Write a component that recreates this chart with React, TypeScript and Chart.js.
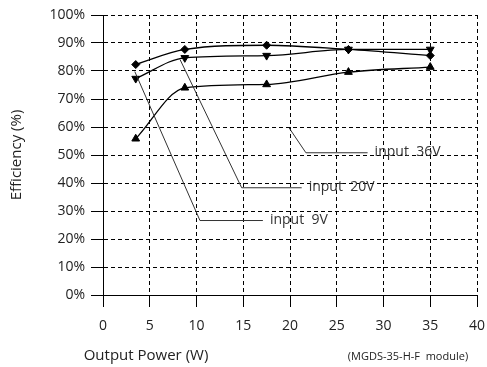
import React, { useEffect, useRef } from "react";
import { Chart, registerables } from "chart.js";

Chart.register(...registerables);

const outputPower = [3.5, 8.75, 17.5, 26.25, 35];
const seriesDiamond = [82.3, 87.7, 89.2, 87.7, 85.5];
const seriesDown = [77.3, 84.7, 85.5, 87.7, 87.7];
const seriesUp = [55.8, 74.0, 75.2, 79.6, 81.4];

const xTitle = "Output Power (W)";
const yTitle = "Efficiency (%)";
const noteText = "(MGDS-35-H-F  module)";

// leader annotations in data coordinates
const leaderLabels = ["input  36V", "input  20V", "input  9V"];
const leaderX = [
  [19.9, 21.7, 28.3],
  [8.24, 14.83, 21.25],
  [3.4, 10.37, 17.1],
];
const leaderY = [
  [59.7, 50.8, 50.8],
  [84.1, 38.3, 38.3],
  [79.8, 26.6, 26.6],
];

const FONT = "'Open Sans', 'DejaVu Sans', sans-serif";

const overlayPlugin = {
  id: "overlay",
  afterDraw(chart: any) {
    const ctx = chart.ctx;
    const xs = chart.scales.x;
    const ys = chart.scales.y;
    const area = chart.chartArea;
    ctx.save();
    ctx.setLineDash([]);
    ctx.strokeStyle = "#333";
    ctx.lineWidth = 1;
    ctx.fillStyle = "#333";
    ctx.font = `14px ${FONT}`;
    ctx.textBaseline = "middle";
    ctx.textAlign = "left";
    leaderLabels.forEach((lab, i) => {
      ctx.beginPath();
      leaderX[i].forEach((xv, j) => {
        const px = xs.getPixelForValue(xv);
        const py = ys.getPixelForValue(leaderY[i][j]);
        if (j === 0) ctx.moveTo(px, py);
        else ctx.lineTo(px, py);
      });
      ctx.stroke();
      const last = leaderX[i].length - 1;
      ctx.fillText(
        lab,
        xs.getPixelForValue(leaderX[i][last]) + 7,
        ys.getPixelForValue(leaderY[i][last]) - 1
      );
    });
    ctx.fillStyle = "#222";
    ctx.font = `15px ${FONT}`;
    ctx.textAlign = "center";
    ctx.fillText(xTitle, 146, 356);
    ctx.save();
    ctx.translate(17, (area.top + area.bottom) / 2);
    ctx.rotate(-Math.PI / 2);
    ctx.fillText(yTitle, 0, 0);
    ctx.restore();
    ctx.font = `11px ${FONT}`;
    ctx.fillText(noteText, 408, 357);
    ctx.restore();
  },
};

export default function App() {
  const ref = useRef<HTMLCanvasElement>(null);
  useEffect(() => {
    if (!ref.current) return;
    const mk = (data: number[], style: string, rotation: number, radius: number) => ({
      data: outputPower.map((x, i) => ({ x, y: data[i] })),
      borderColor: "#000",
      backgroundColor: "#000",
      borderWidth: 1.3,
      pointStyle: style,
      pointRotation: rotation,
      pointRadius: radius,
      pointBorderWidth: 1,
      cubicInterpolationMode: "monotone" as const,
      fill: false,
    });
    const grid = {
      color: "#000",
      lineWidth: 1,
      tickBorderDash: [],
      tickLength: 12,
      drawTicks: true,
    };
    const border = { display: true, color: "#000", width: 1, dash: [4, 3] };
    const chart = new Chart(ref.current, {
      type: "line",
      data: {
        datasets: [
          { label: "diamond", ...mk(seriesDiamond, "rectRot", 0, 4) },
          { label: "down", ...mk(seriesDown, "triangle", 180, 4.5) },
          { label: "up", ...mk(seriesUp, "triangle", 0, 4.5) },
        ],
      },
      options: {
        animation: false,
        responsive: false,
        layout: { padding: { top: 15, right: 10, left: 0, bottom: 0 } },
        plugins: { legend: { display: false }, tooltip: { enabled: false } },
        scales: {
          x: {
            type: "linear",
            min: 0,
            max: 40,
            ticks: {
              stepSize: 5,
              padding: 11,
              color: "#222",
              font: { family: FONT, size: 14 },
            },
            grid,
            border,
            afterFit: (s: any) => {
              s.height = 72;
              s.paddingLeft = 0;
              s.paddingRight = 0;
            },
          },
          y: {
            type: "linear",
            min: 0,
            max: 100,
            ticks: {
              stepSize: 10,
              padding: 6,
              color: "#222",
              font: { family: FONT, size: 14 },
              callback: (v: any) => v + "%",
            },
            grid,
            border,
            afterFit: (s: any) => {
              s.width = 103;
              s.paddingTop = 0;
              s.paddingBottom = 0;
            },
          },
        },
      },
      plugins: [overlayPlugin],
    } as any);
    return () => chart.destroy();
  }, []);
  return (
    <div style={{ position: "fixed", left: 0, top: 0, width: 487, height: 367, background: "#fff" }}>
      <canvas ref={ref} width={487} height={367} style={{ width: 487, height: 367 }} />
    </div>
  );
}
